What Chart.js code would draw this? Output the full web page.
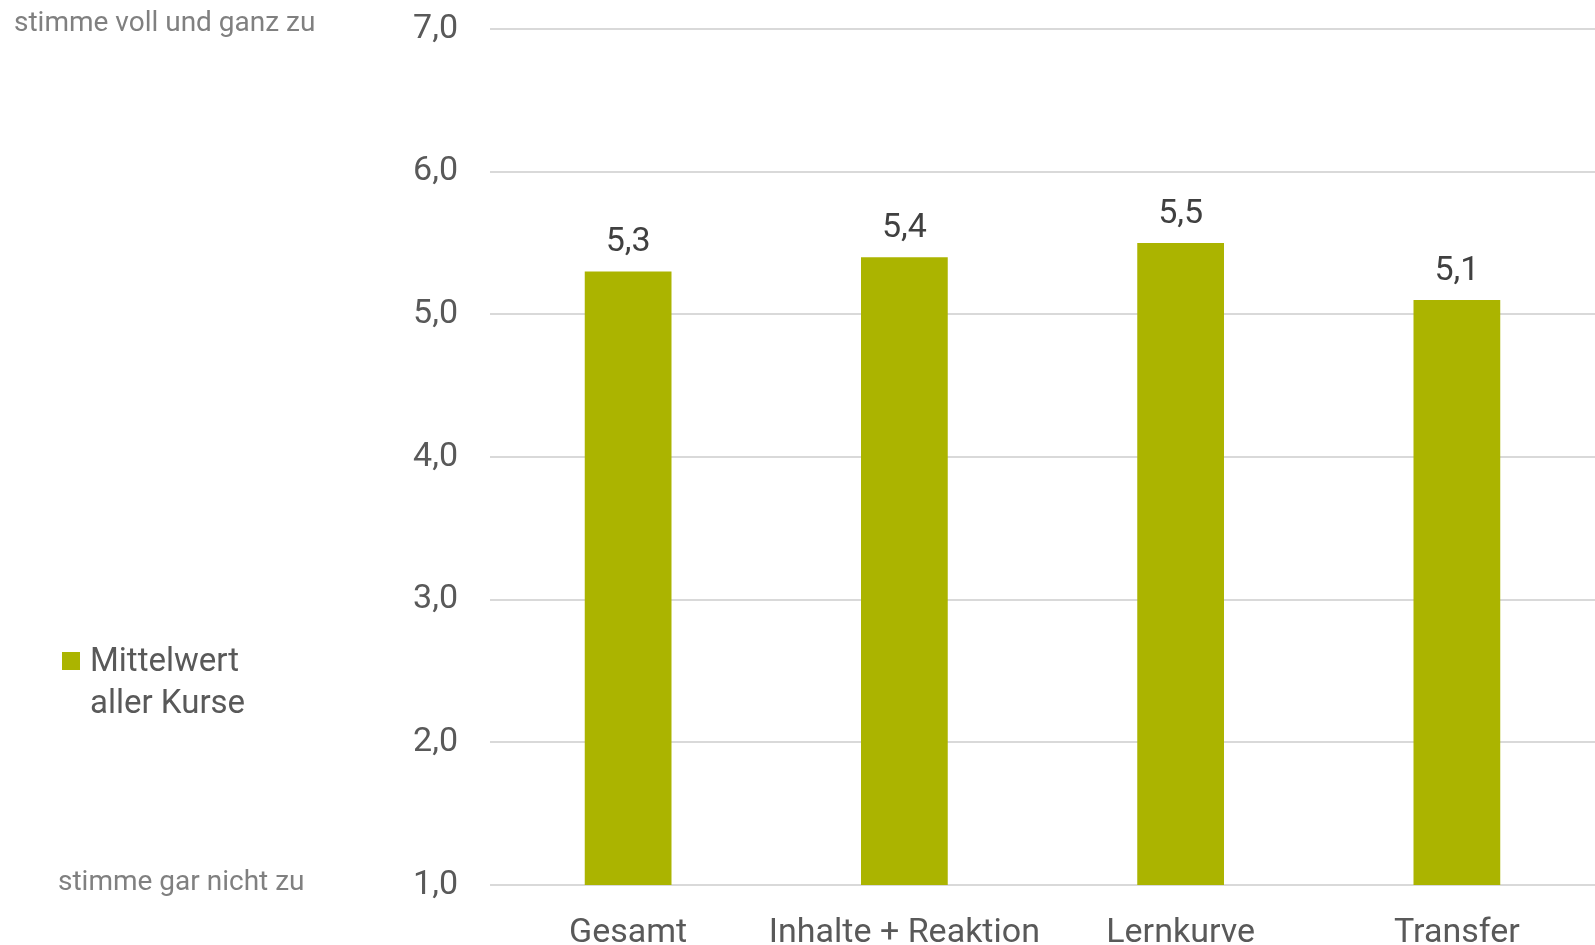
<!DOCTYPE html>
<html lang="de">
<head>
<meta charset="utf-8">
<title>Mittelwert aller Kurse</title>
<script src="https://cdn.jsdelivr.net/npm/chart.js@4.4.1/dist/chart.umd.min.js"></script>
<style>
    html, body { margin: 0; padding: 0; background: #ffffff; }
    #wrap { position: relative; width: 1595px; height: 945px; }
</style>
</head>
<body>
<div id="wrap"><canvas id="meanChart" width="1595" height="945"></canvas></div>
<script>
// Data
const categories = ['Gesamt', 'Inhalte + Reaktion', 'Lernkurve', 'Transfer'];
const meanValues = [5.3, 5.4, 5.5, 5.1];
const seriesLabel = ['Mittelwert', 'aller Kurse'];
const scaleTop = 'stimme voll und ganz zu';
const scaleBottom = 'stimme gar nicht zu';

const barColor = '#abb400';
const fontFamily = "Roboto, 'Liberation Sans', sans-serif";
const fmt = v => Number(v).toFixed(1).replace('.', ',');

// Value labels above each bar
const valueLabels = {
    id: 'valueLabels',
    afterDatasetsDraw(chart) {
        const ctx = chart.ctx;
        const meta = chart.getDatasetMeta(0);
        ctx.save();
        ctx.font = `34px ${fontFamily}`;
        ctx.fillStyle = '#404040';
        ctx.textAlign = 'center';
        ctx.textBaseline = 'middle';
        meta.data.forEach((bar, i) => {
            ctx.fillText(fmt(meanValues[i]), bar.x, bar.y - 29);
        });
        ctx.restore();
    }
};

// Scale end captions and legend on the left side
const sideTexts = {
    id: 'sideTexts',
    afterDraw(chart) {
        const ctx = chart.ctx;
        const y = chart.scales.y;
        ctx.save();
        ctx.font = `28px ${fontFamily}`;
        ctx.fillStyle = '#808080';
        ctx.textBaseline = 'middle';
        ctx.textAlign = 'left';
        ctx.fillText(scaleTop, 14, y.getPixelForValue(7) - 5);
        ctx.fillText(scaleBottom, 58, y.getPixelForValue(1) - 2);

        // legend
        ctx.fillStyle = barColor;
        ctx.fillRect(62, 652, 18, 18);
        ctx.font = `33px ${fontFamily}`;
        ctx.fillStyle = '#595959';
        ctx.fillText(seriesLabel[0], 90, 663);
        ctx.fillText(seriesLabel[1], 90, 705);
        ctx.restore();
    }
};

const ctx = document.getElementById('meanChart').getContext('2d');
new Chart(ctx, {
    type: 'bar',
    data: {
        labels: categories,
        datasets: [{
            label: seriesLabel.join(' '),
            data: meanValues,
            backgroundColor: barColor,
            borderWidth: 0,
            categoryPercentage: 1.0,
            barPercentage: 0.314
        }]
    },
    options: {
        responsive: false,
        animation: false,
        layout: { padding: { left: 360, top: 29, right: 0, bottom: 0 } },
        plugins: {
            legend: { display: false },
            tooltip: { enabled: false }
        },
        scales: {
            y: {
                min: 1,
                max: 7,
                afterFit: (scale) => {
                    scale.width = 130;
                    // tick padding should not push the plot area down
                    scale.paddingTop = 0;
                    scale.paddingBottom = 0;
                },
                border: { display: false },
                grid: { color: '#d9d9d9', lineWidth: 2, drawTicks: false },
                ticks: {
                    stepSize: 1,
                    padding: 32,
                    color: '#595959',
                    font: { family: fontFamily, size: 34 },
                    callback: (v) => fmt(v)
                }
            },
            x: {
                afterFit: (scale) => { scale.height = 60; },
                border: { display: false },
                grid: { display: false },
                ticks: {
                    padding: 20,
                    color: '#595959',
                    maxRotation: 0,
                    font: { family: fontFamily, size: 34 }
                }
            }
        }
    },
    plugins: [valueLabels, sideTexts]
});
</script>
</body>
</html>
